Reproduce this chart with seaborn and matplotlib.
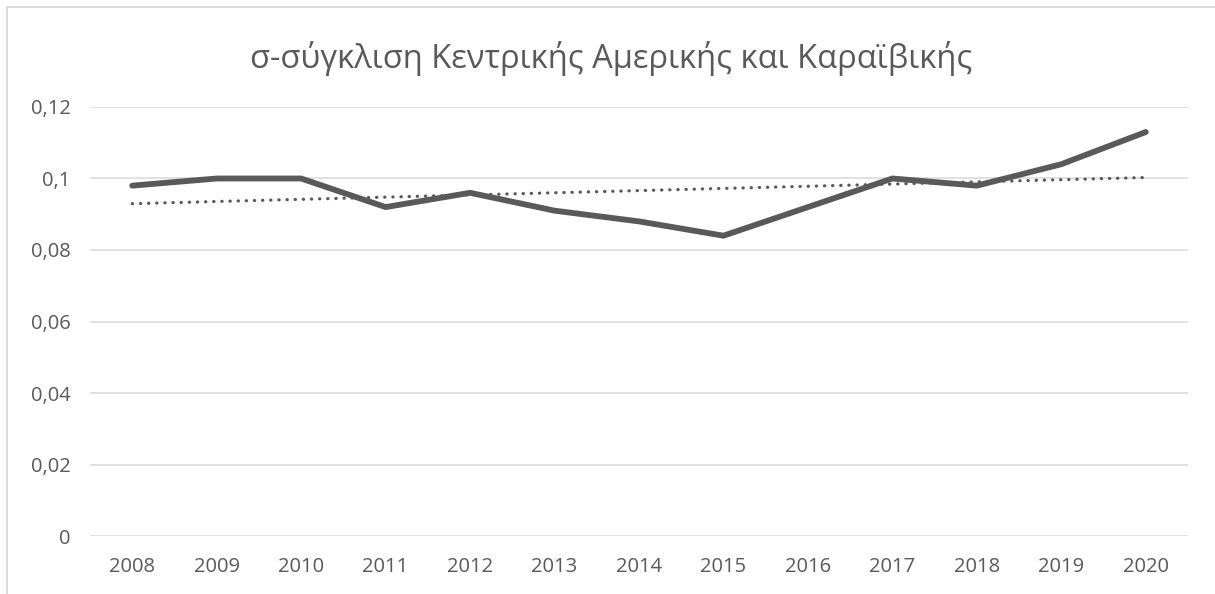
import numpy as np
import pandas as pd
import seaborn as sns
import matplotlib.pyplot as plt
from matplotlib.patches import Rectangle
from matplotlib.ticker import FuncFormatter

# data
years = [2008, 2009, 2010, 2011, 2012, 2013, 2014, 2015, 2016, 2017, 2018, 2019, 2020]
sigma = [0.098, 0.100, 0.100, 0.092, 0.096, 0.091, 0.088, 0.084, 0.092, 0.100, 0.098, 0.104, 0.113]
y_ticks = [0, 0.02, 0.04, 0.06, 0.08, 0.10, 0.12]
title = "σ-σύγκλιση Κεντρικής Αμερικής και Καραϊβικής"

df = pd.DataFrame({"pos": np.arange(len(years)), "year": years, "sigma": sigma})

sns.set_style("white")
plt.rcParams["font.family"] = ["Open Sans", "DejaVu Sans"]

grey = "#595959"
grid = "#d9d9d9"

fig = plt.figure(figsize=(12.15, 5.94), dpi=100)
ax = fig.add_axes([90 / 1215, 58 / 594, (1188 - 90) / 1215, (536 - 107) / 594])

# chart frame (only left and top edges visible in the crop)
fig.patches.append(Rectangle((6.5 / 1215, -0.1), 1.2, 1.1 - 7.5 / 594,
                             transform=fig.transFigure, fill=False,
                             edgecolor=grid, linewidth=1.3, zorder=0))

for t in y_ticks:
    ax.axhline(t, color=grid, linewidth=1.1, zorder=0)

# linear trendline, dotted
sns.regplot(data=df, x="pos", y="sigma", scatter=False, ci=None, truncate=True, ax=ax,
            line_kws=dict(color=grey, linewidth=2.3, linestyle=(0, (0.1, 2.45)),
                          dash_capstyle="round", zorder=2))

sns.lineplot(data=df, x="pos", y="sigma", ax=ax, color=grey, linewidth=4.2,
             solid_capstyle="round", solid_joinstyle="miter", zorder=3)

ax.set_xlim(-0.5, len(years) - 0.5)
ax.set_ylim(0, 0.12)
ax.set_xticks(df["pos"])
ax.set_xticklabels([str(y) for y in years])
ax.set_yticks(y_ticks)
ax.yaxis.set_major_formatter(FuncFormatter(lambda v, p: "0" if v == 0 else f"{v:g}".replace(".", ",")))
ax.tick_params(axis="both", length=0, labelsize=14.5, labelcolor=grey)
ax.tick_params(axis="y", pad=14)
ax.tick_params(axis="x", pad=15)
ax.set_xlabel("")
ax.set_ylabel("")
for s in ax.spines.values():
    s.set_visible(False)

fig.text(0.503, 1 - 58 / 594, title, ha="center", va="center", fontsize=23.5, color=grey)

fig.savefig("out.png", dpi=100, facecolor="white")
